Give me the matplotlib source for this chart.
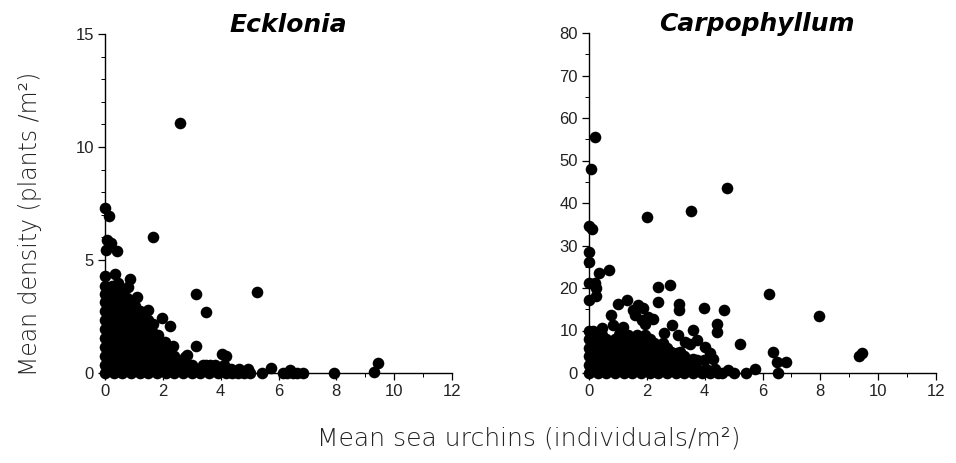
import matplotlib
matplotlib.use("Agg")
import matplotlib.pyplot as plt
from matplotlib.ticker import MultipleLocator

# ---------------- data ----------------
ecklonia_x = [
    2.6, 0.0, 0.15, 1.67, 0.08, 0.22, 0.02, 0.42, 0.35, 0.0, 0.86, 0.46, 0.8, 1.1,
    3.15, 5.25, 3.48, 1.47, 1.96, 2.25, 1.85, 2.08, 2.36, 3.15, 4.04, 4.19, 2.77,
    2.85, 3.5, 3.63, 5.73, 5.42, 6.4, 6.15, 6.3, 6.5, 6.65, 6.85, 7.93, 9.29, 9.43,
    # y ~ 0
    0.0, 0.3, 0.6, 0.9, 1.2, 1.5, 1.8, 2.1, 2.4, 2.7, 3.0, 3.3, 3.6, 3.9, 4.2, 4.4,
    4.6, 4.8, 5.0,
    # y ~ 0.17
    0.15, 0.45, 0.75, 1.05, 1.35, 1.65, 1.95, 2.25, 2.55, 2.85, 3.15, 3.45, 3.75,
    4.05, 4.35, 4.65, 4.95,
    # y ~ 0.35
    0.0, 0.3, 0.6, 0.9, 1.2, 1.5, 1.8, 2.1, 2.4, 2.7, 3.0, 3.4, 3.8, 4.1,
    # y ~ 0.55
    0.15, 0.45, 0.75, 1.05, 1.35, 1.65, 1.95, 2.25, 2.55,
    # y ~ 0.75
    0.0, 0.3, 0.6, 0.9, 1.2, 1.5, 1.8, 2.1, 2.4,
    # y ~ 0.95
    0.15, 0.45, 0.75, 1.05, 1.35, 1.65, 1.95, 2.25,
    # y ~ 1.15
    0.0, 0.3, 0.6, 0.9, 1.2, 1.5, 1.8, 2.1,
    # y ~ 1.35
    0.15, 0.45, 0.75, 1.05, 1.35, 1.65, 1.95,
    # y ~ 1.55
    0.0, 0.3, 0.6, 0.9, 1.2, 1.5, 1.75,
    # y ~ 1.75
    0.15, 0.45, 0.75, 1.05, 1.35, 1.65,
    # y ~ 1.95
    0.0, 0.3, 0.6, 0.9, 1.2, 1.5,
    # y ~ 2.15
    0.15, 0.45, 0.75, 1.05, 1.35, 1.65,
    # y ~ 2.35
    0.0, 0.3, 0.6, 0.9, 1.2, 1.5,
    # y ~ 2.55
    0.15, 0.45, 0.75, 1.05, 1.35,
    # y ~ 2.75
    0.0, 0.3, 0.6, 0.9, 1.2,
    # y ~ 2.95
    0.15, 0.45, 0.75, 1.05,
    # y ~ 3.15
    0.0, 0.3, 0.6, 0.9,
    # y ~ 3.3
    0.15, 0.45, 0.75,
    # y ~ 3.5
    0.0, 0.3, 0.6,
    # y ~ 3.7
    0.15, 0.45,
    # y ~ 3.85
    0.0, 0.25,
]
ecklonia_y = [
    11.06, 7.3, 6.95, 6.02, 5.9, 5.75, 5.45, 5.4, 4.4, 4.27, 4.15, 3.97, 3.8, 3.38,
    3.5, 3.58, 2.68, 2.8, 2.43, 2.06, 1.7, 1.35, 1.18, 1.18, 0.86, 0.74, 0.72,
    0.8, 0.37, 0.35, 0.22, 0.0, 0.12, 0.0, 0.0, 0.0, 0.0, 0.0, 0.0, 0.03, 0.44,
    0, 0, 0, 0, 0, 0, 0, 0, 0, 0, 0, 0, 0, 0, 0, 0, 0, 0, 0,
    0.17, 0.17, 0.17, 0.17, 0.17, 0.17, 0.17, 0.17, 0.17, 0.17, 0.17, 0.17, 0.17,
    0.17, 0.17, 0.17, 0.17,
    0.35, 0.35, 0.35, 0.35, 0.35, 0.35, 0.35, 0.35, 0.35, 0.35, 0.35, 0.35, 0.35, 0.35,
    0.55, 0.55, 0.55, 0.55, 0.55, 0.55, 0.55, 0.55, 0.55,
    0.75, 0.75, 0.75, 0.75, 0.75, 0.75, 0.75, 0.75, 0.75,
    0.95, 0.95, 0.95, 0.95, 0.95, 0.95, 0.95, 0.95,
    1.15, 1.15, 1.15, 1.15, 1.15, 1.15, 1.15, 1.15,
    1.35, 1.35, 1.35, 1.35, 1.35, 1.35, 1.35,
    1.55, 1.55, 1.55, 1.55, 1.55, 1.55, 1.55,
    1.75, 1.75, 1.75, 1.75, 1.75, 1.75,
    1.95, 1.95, 1.95, 1.95, 1.95, 1.95,
    2.15, 2.15, 2.15, 2.15, 2.15, 2.15,
    2.35, 2.35, 2.35, 2.35, 2.35, 2.35,
    2.55, 2.55, 2.55, 2.55, 2.55,
    2.75, 2.75, 2.75, 2.75, 2.75,
    2.95, 2.95, 2.95, 2.95,
    3.15, 3.15, 3.15, 3.15,
    3.3, 3.3, 3.3,
    3.5, 3.5, 3.5,
    3.7, 3.7,
    3.85, 3.85,
]

carpo_x = [
    0.21, 0.06, 0.0, 0.09, 0.0, 0.0, 0.0, 0.21, 0.24, 0.35, 0.69, 0.0, 0.24,
    2.0, 3.52, 4.78, 6.21, 7.95, 9.32, 9.44,
    2.4, 2.8, 2.4, 3.12, 3.12, 1.33, 1.02, 0.75,
    1.53, 1.71, 1.88, 1.59, 1.82, 2.05, 2.23, 1.94,
    3.99, 4.67, 4.42, 4.42, 2.86, 2.6, 3.09, 3.61, 5.23,
    6.35, 6.5, 6.81, 6.55, 5.75, 5.43, 4.82, 4.59, 5.0,
    1.19, 1.07, 0.84, 0.44, 4.02, 4.19, 4.3, 3.96, 3.61, 3.5, 3.32, 3.73, 3.03,
    # y ~ 0
    0.0, 0.3, 0.6, 0.9, 1.2, 1.5, 1.8, 2.1, 2.4, 2.7, 3.0, 3.3, 3.6, 3.9, 4.2, 4.45,
    # y ~ 1
    0.15, 0.45, 0.75, 1.05, 1.35, 1.65, 1.95, 2.25, 2.55, 2.85, 3.15, 3.45, 3.75,
    4.05, 4.35,
    # y ~ 2
    0.0, 0.3, 0.6, 0.9, 1.2, 1.5, 1.8, 2.1, 2.4, 2.7, 3.0, 3.3, 3.6,
    # y ~ 3
    0.15, 0.45, 0.75, 1.05, 1.35, 1.65, 1.95, 2.25, 2.55, 2.85, 3.15, 3.45, 3.75,
    # y ~ 4
    0.0, 0.3, 0.6, 0.9, 1.2, 1.5, 1.8, 2.1, 2.4, 2.7, 3.0, 3.3,
    # y ~ 5
    0.15, 0.45, 0.75, 1.05, 1.35, 1.65, 1.95, 2.25, 2.55, 2.85, 3.15,
    # y ~ 6
    0.0, 0.3, 0.6, 0.9, 1.2, 1.5, 1.8, 2.1, 2.4, 2.7,
    # y ~ 7
    0.15, 0.45, 0.75, 1.05, 1.35, 1.65, 1.95, 2.25, 2.55,
    # y ~ 8
    0.0, 0.3, 0.6, 0.9, 1.2, 1.5, 1.8, 2.1,
    # y ~ 9
    0.15, 0.45, 1.05, 1.35, 1.65, 1.95,
    # y ~ 10
    0.0, 0.15,
]
carpo_y = [
    55.6, 47.9, 34.6, 33.9, 28.5, 26.2, 21.1, 21.1, 20.1, 23.6, 24.2, 17.1, 18.1,
    36.6, 38.1, 43.5, 18.7, 13.5, 3.9, 4.7,
    20.3, 20.7, 16.7, 16.2, 14.8, 17.1, 16.2, 13.6,
    14.9, 16.0, 15.2, 13.6, 12.4, 13.2, 12.6, 11.6,
    15.2, 14.8, 11.6, 9.7, 11.2, 9.3, 8.9, 10.1, 6.9,
    5.0, 2.6, 2.6, 0.0, 1.0, 0.0, 0.6, 0.0, 0.0,
    10.8, 9.7, 11.2, 10.5, 6.1, 4.6, 3.4, 3.0, 3.4, 6.9, 7.3, 7.7, 4.6,
    0, 0, 0, 0, 0, 0, 0, 0, 0, 0, 0, 0, 0, 0, 0, 0,
    1, 1, 1, 1, 1, 1, 1, 1, 1, 1, 1, 1, 1, 1, 1,
    2, 2, 2, 2, 2, 2, 2, 2, 2, 2, 2, 2, 2,
    3, 3, 3, 3, 3, 3, 3, 3, 3, 3, 3, 3, 3,
    4, 4, 4, 4, 4, 4, 4, 4, 4, 4, 4, 4,
    5, 5, 5, 5, 5, 5, 5, 5, 5, 5, 5,
    6, 6, 6, 6, 6, 6, 6, 6, 6, 6,
    7, 7, 7, 7, 7, 7, 7, 7, 7,
    8, 8, 8, 8, 8, 8, 8, 8,
    9, 9, 9, 9, 9, 9,
    10, 10,
]

titles = ["Ecklonia", "Carpophyllum"]
x_ticks = [0, 2, 4, 6, 8, 10, 12]
left_y_ticks = [0, 5, 10, 15]
right_y_ticks = [0, 10, 20, 30, 40, 50, 60, 70, 80]

# ---------------- figure ----------------
fig = plt.figure(figsize=(9.56, 4.63), dpi=100)
fig.patch.set_facecolor("white")

ax1 = fig.add_axes([105 / 956, 90 / 463, 347 / 956, 339 / 463])
ax2 = fig.add_axes([589 / 956, 90 / 463, 347 / 956, 340 / 463])

tick_font = ["Liberation Sans", "DejaVu Sans"]
ms = 70

for ax, xs, ys, title, yt, ymax, yminor, tx in [
    (ax1, ecklonia_x, ecklonia_y, titles[0], left_y_ticks, 15, 1, 0.527),
    (ax2, carpo_x, carpo_y, titles[1], right_y_ticks, 80, 5, 0.484),
]:
    ax.scatter(xs, ys, s=ms, c="black", linewidths=0, clip_on=False, zorder=3)
    ax.set_xlim(0, 12)
    ax.set_ylim(0, ymax)
    ax.set_xticks(x_ticks)
    ax.set_yticks(yt)
    ax.xaxis.set_minor_locator(MultipleLocator(1))
    ax.yaxis.set_minor_locator(MultipleLocator(yminor))
    for s in ["top", "right"]:
        ax.spines[s].set_visible(False)
    for s in ["left", "bottom"]:
        ax.spines[s].set_linewidth(1.0)
    ax.tick_params(which="major", direction="out", length=5, width=0.9,
                   labelsize=12, colors="black", pad=3)
    ax.tick_params(which="minor", direction="out", length=3, width=0.7)
    for lab in ax.get_xticklabels() + ax.get_yticklabels():
        lab.set_fontfamily(tick_font)
        lab.set_color("#222222")
    ax.text(tx, 0.99, title, transform=ax.transAxes, ha="center", va="bottom",
            fontsize=18, fontweight="bold", fontstyle="italic",
            family=["DejaVu Sans"])

fig.text(0.553, 0.052, "Mean sea urchins (individuals/m²)", ha="center", va="center",
         fontsize=18, family=["DejaVu Sans"], fontweight="light", color="#222222")
fig.text(0.031, 0.516, "Mean density (plants /m²)", ha="center", va="center",
         rotation=90, fontsize=17, family=["DejaVu Sans"], fontweight="light",
         color="#222222")

fig.savefig("out.png", dpi=100, facecolor="white")
